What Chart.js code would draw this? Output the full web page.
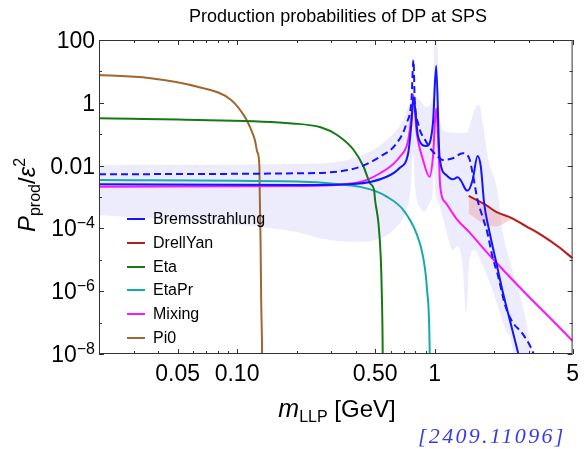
<!DOCTYPE html>
<html>
<head>
<meta charset="utf-8">
<script src="https://cdn.jsdelivr.net/npm/chart.js@4.4.1/dist/chart.umd.min.js"></script>
<style>
  body { margin: 0; background: #fff; }
  #wrap { position: relative; width: 586px; height: 449px; font-family: "Liberation Sans", Arial, sans-serif; color: #000; overflow: hidden; }
  #wrap canvas { position: absolute; left: 0; top: 0; }
  .abs { position: absolute; white-space: nowrap; }
  #title { left: 0; width: 676px; top: 7px; text-align: center; font-size: 18px; line-height: 18px; }
  #xlabel { left: 0; width: 674px; top: 396px; text-align: center; font-size: 24px; line-height: 24px; }
  #xlabel i { font-size: 25px; }
  #xlabel sub, #ylabel sub { font-size: 16px; vertical-align: -5px; line-height: 0; }
  #ylabel { left: 27px; top: 195px; font-size: 24px; line-height: 24px; transform: translate(-50%, -50%) rotate(-90deg); }
  #ylabel sup { font-size: 16px; vertical-align: 10px; line-height: 0; }
  .ytick { left: 0; width: 95px; text-align: right; font-size: 23px; line-height: 23px; }
  .ytick sup { font-size: 16px; vertical-align: 8px; line-height: 0; }
  .leg { left: 127px; height: 16px; font-size: 16px; line-height: 16px; }
  .leg span { position: absolute; left: 0; top: 7px; width: 18px; height: 2px; }
  .leg b { position: absolute; left: 26px; top: 0; font-weight: normal; }
  #ref { left: 418px; top: 425px; font-family: "Liberation Serif", serif; font-style: italic; font-size: 22px; line-height: 22px; letter-spacing: 2.3px; color: #3a3aec; }
</style>
</head>
<body>
<div id="wrap">
  <canvas id="c" width="586" height="449"></canvas>
  <div id="title" class="abs">Production probabilities of DP at SPS</div>
  <div id="xlabel" class="abs"><i>m</i><sub>LLP</sub> [GeV]</div>
  <div id="ylabel" class="abs"><i>P</i><sub>prod</sub>/<i>ε</i><sup>2</sup></div>
  <div id="ref" class="abs">[2409.11096]</div>
</div>
<script>
// masses in GeV, probabilities P_prod / eps^2
const pi0M = [0.02, 0.0357, 0.0637, 0.0933, 0.1097, 0.1162, 0.1231, 0.1267, 0.1298, 0.1302, 0.1316, 0.1325, 0.1339, 0.1342];
const pi0P = [7.7, 6.2, 3.2, 1.23, 0.35, 0.17, 0.065, 0.027, 0.009, 1.67e-3, 3e-5, 5.2e-7, 1e-8, 1e-9];

const etaM = [0.02, 0.0637, 0.19, 0.2649, 0.3211, 0.3896, 0.4372, 0.4719, 0.4942, 0.4999, 0.52, 0.5339, 0.5402, 0.5464, 0.5475];
const etaP = [0.32, 0.283, 0.22, 0.166, 0.094, 0.0314, 0.0092, 0.0027, 1.67e-3, 8e-4, 1.45e-4, 1.25e-5, 1.1e-6, 1.07e-8, 1e-9];

const etaPrM = [0.02, 0.2, 0.3211, 0.4204, 0.5098, 0.5723, 0.6939, 0.8096, 0.8745, 0.916, 0.945, 0.948];
const etaPrP = [3.47e-3, 3.1e-3, 2.6e-3, 2.1e-3, 1.48e-3, 1.03e-3, 3.9e-4, 6.9e-5, 1.26e-5, 1.1e-6, 1.1e-8, 1e-9];

const mixM = [0.02, 0.2, 0.3896, 0.5297, 0.6672, 0.7355, 0.7729, 0.782, 0.8096, 0.8745, 0.9439, 0.9817, 1.019, 1.0521, 1.0681, 1.1447, 1.2852, 1.4982, 1.817, 2.04, 2.8842, 3.8471, 5.0];
const mixP = [2.13e-3, 2.24e-3, 2.73e-3, 5.7e-3, 0.0192, 0.065, 0.75, 1.77, 0.136, 0.0151, 4.4e-3, 0.0192, 0.67, 0.0192, 2.13e-3, 6.3e-4, 2.1e-4, 7.6e-5, 1.9e-5, 8.5e-6, 8.6e-7, 1.4e-7, 2.6e-8];

const bremM = [0.02, 0.2, 0.3896, 0.5723, 0.6649, 0.7355, 0.764, 0.782, 0.8255, 0.9086, 0.9817, 1.019, 1.0594, 1.1447, 1.2366, 1.3102, 1.361, 1.4428, 1.4712, 1.5589, 1.6512, 1.715, 1.7818, 1.888, 2.04, 2.2033, 2.4262, 2.6514, 2.75];
const bremP = [2.54e-3, 2.41e-3, 2.6e-3, 4.42e-3, 8.4e-3, 0.0252, 0.228, 1.5, 0.083, 0.042, 0.228, 15, 0.02, 5.0e-3, 3.66e-3, 4.24e-3, 3.3e-3, 1.67e-3, 1.6e-3, 3.5e-3, 0.0202, 9.2e-3, 6.5e-4, 8.9e-5, 9.9e-6, 1.1e-6, 9.7e-8, 1.05e-8, 4e-9];

const bremDashM = [0.02, 0.2, 0.3211, 0.4204, 0.5297, 0.6424, 0.7211, 0.764, 0.782, 0.7935, 0.8255, 0.9086, 0.9817, 1.0198, 1.1019, 1.2366, 1.3883, 1.4982, 1.5589, 1.6512, 1.7498, 1.8533, 1.9634, 2.0801, 2.2901, 2.4743, 2.7772, 3.1168, 3.2381];
const bremDashP = [5.3e-3, 5.7e-3, 6.4e-3, 9.2e-3, 0.0192, 0.051, 0.222, 1.23, 23, 1.23, 0.222, 0.056, 0.0277, 0.0218, 0.0151, 0.0171, 0.0247, 0.0171, 5.7e-3, 8e-4, 2.36e-4, 7e-5, 1.26e-5, 3.7e-6, 3.2e-7, 1.07e-7, 4.6e-8, 1.34e-8, 7e-9];

const dyM = [1.4882, 1.817, 2.04, 2.4743, 2.8842, 3.4986, 4.2393, 5.0];
const dyP = [1.08e-3, 5.6e-4, 3.4e-4, 2.1e-4, 1.2e-4, 6.0e-5, 2.6e-5, 1.12e-5];
const dyBandLoP = [3.0e-4, 1.3e-4, 1.15e-4, 1.85e-4, 1.08e-4, 5.3e-5, 2.3e-5, 9.8e-6];
const dyBandHiP = [1.15e-3, 6.0e-4, 3.6e-4, 2.25e-4, 1.28e-4, 6.4e-5, 2.8e-5, 1.22e-5];

// uncertainty band around Bremsstrahlung
const bandHiM = [0.02, 0.2, 0.3896, 0.5723, 0.6939, 0.7491, 0.7793, 0.8409, 0.9086, 0.9817, 0.998, 1.035, 1.0594, 1.1447, 1.4428, 1.619, 1.6843, 1.7498, 1.888, 2.08, 2.2033, 2.40, 2.80, 3.12, 3.3137];
const bandHiP = [0.0105, 0.0112, 0.0171, 0.065, 0.283, 0.99, 1.56, 1.23, 0.75, 1.56, 100, 100, 0.3, 0.12, 0.11, 0.75, 0.85, 0.23, 0.0121, 1.67e-3, 8.9e-5, 9.9e-6, 3.2e-7, 1.07e-8, 1e-9];
const bandLoM = [0.02, 0.0637, 0.2, 0.2649, 0.3896, 0.5297, 0.6424, 0.7211, 0.7551, 0.7774, 0.8, 0.8477, 0.8909, 0.9406, 0.9794, 0.9942, 1.0139, 1.0594, 1.1447, 1.2366, 1.3102, 1.3853, 1.4497, 1.5015, 1.5868, 1.7498, 1.9634, 2.2901, 2.5, 2.6, 3.3137];
const bandLoP = [2.67e-4, 1.6e-4, 7.7e-5, 4.8e-5, 3.77e-5, 4.8e-5, 1.13e-4, 3.86e-4, 1.67e-3, 0.0271, 1.67e-3, 4.5e-4, 3.4e-4, 6.4e-4, 1.45e-3, 0.0105, 1.45e-3, 5.6e-4, 8.9e-5, 2.05e-5, 2.75e-5, 6.8e-6, 2.0e-7, 9.9e-6, 2.05e-5, 6.8e-6, 1.1e-6, 6e-8, 1e-8, 1e-10, 1e-10];

const legendNames = ['Bremsstrahlung', 'DrellYan', 'Eta', 'EtaPr', 'Mixing', 'Pi0'];
const legendColors = ['#1414ff', '#b41e1e', '#157a15', '#17aaaa', '#ff14ff', '#a0662e'];

const xMajor = [0.05, 0.1, 0.5, 1, 5];
const xMajorText = ['0.05', '0.10', '0.50', '1', '5'];
const xMinor = [0.03, 0.04, 0.06, 0.07, 0.08, 0.09, 0.2, 0.3, 0.4, 0.6, 0.7, 0.8, 0.9, 2, 3, 4];
const yMajor = [1e-8, 1e-6, 1e-4, 1e-2, 1, 100];
const yMajorHtml = ['10<sup>−8</sup>', '10<sup>−6</sup>', '10<sup>−4</sup>', '0.01', '1', '100'];
const yMinor = [1e-7, 1e-5, 1e-3, 0.1, 10];

const pts = (m, p) => m.map((v, i) => ({ x: v, y: p[i] }));
const line = (label, m, p, color, extra) => Object.assign({
  label, data: pts(m, p), borderColor: color, borderWidth: 2, pointRadius: 0, fill: false,
  cubicInterpolationMode: 'monotone'
}, extra || {});
const edge = (m, p) => ({
  data: pts(m, p), borderColor: 'rgba(0,0,0,0)', borderWidth: 0, pointRadius: 0, fill: false,
  cubicInterpolationMode: 'monotone'
});

// fills are drawn last-to-first, so the pink band (7,8) ends up over the lavender one (9,10)
const datasets = [
  line('Bremsstrahlung', bremM, bremP, legendColors[0]),
  line('Bremsstrahlung (dashed)', bremDashM, bremDashP, legendColors[0], { borderDash: [7, 4] }),
  line('DrellYan', dyM, dyP, legendColors[1]),
  line('Eta', etaM, etaP, legendColors[2]),
  line('EtaPr', etaPrM, etaPrP, legendColors[3]),
  line('Mixing', mixM, mixP, legendColors[4]),
  line('Pi0', pi0M, pi0P, legendColors[5]),
  edge(dyM, dyBandLoP),
  Object.assign(edge(dyM, dyBandHiP), { fill: { target: 7 }, backgroundColor: 'rgba(240,160,165,0.45)' }),
  edge(bandLoM, bandLoP),
  Object.assign(edge(bandHiM, bandHiP), { fill: { target: 9 }, backgroundColor: '#ececfd' })
];

// inward ticks on all four sides plus frame
const frameTicks = {
  id: 'frameTicks',
  afterDraw(chart) {
    const { ctx, chartArea: a, scales: { x, y } } = chart;
    ctx.save();
    ctx.strokeStyle = '#333';
    ctx.lineWidth = 1;
    ctx.strokeRect(a.left + 0.5, a.top + 0.5, a.right - a.left - 1, a.bottom - a.top - 1);
    const seg = (x1, y1, x2, y2) => { ctx.beginPath(); ctx.moveTo(x1, y1); ctx.lineTo(x2, y2); ctx.stroke(); };
    const xt = (vals, len) => vals.forEach(v => {
      const px = Math.round(x.getPixelForValue(v)) + 0.5;
      seg(px, a.bottom, px, a.bottom - len);
      seg(px, a.top, px, a.top + len);
    });
    const yt = (vals, len) => vals.forEach(v => {
      const py = Math.round(y.getPixelForValue(v)) + 0.5;
      seg(a.left, py, a.left + len, py);
      seg(a.right, py, a.right - len, py);
    });
    xt(xMajor, 5); xt(xMinor, 3);
    yt(yMajor, 5); yt(yMinor, 3);
    ctx.restore();
  }
};

const chart = new Chart(document.getElementById('c'), {
  type: 'line',
  data: { datasets },
  options: {
    responsive: false,
    animation: false,
    devicePixelRatio: 1,
    layout: { padding: { top: 40, right: 9, left: 0, bottom: 0 } },
    plugins: {
      legend: { display: false },
      title: { display: false },
      tooltip: { enabled: false },
      filler: { propagate: false, drawTime: 'beforeDatasetsDraw' }
    },
    scales: {
      x: {
        type: 'logarithmic',
        min: 0.02,
        max: 5,
        grid: { display: false, drawTicks: false },
        border: { display: false },
        afterFit: s => { s.height = 95; },
        afterBuildTicks: s => { s.ticks = xMajor.map(v => ({ value: v })); },
        ticks: {
          autoSkip: false, maxRotation: 0, minRotation: 0, padding: 7,
          color: '#000',
          font: { family: '"Liberation Sans", Arial, sans-serif', size: 23 },
          callback: v => xMajorText[xMajor.indexOf(v)]
        }
      },
      y: {
        type: 'logarithmic',
        min: 1e-8,
        max: 100,
        grid: { display: false, drawTicks: false },
        border: { display: false },
        afterFit: s => { s.width = 99; },
        ticks: { display: false }
      }
    }
  },
  plugins: [frameTicks]
});

const wrap = document.getElementById('wrap');
yMajor.forEach((v, i) => {
  const d = document.createElement('div');
  d.className = 'abs ytick';
  d.innerHTML = yMajorHtml[i];
  d.style.top = (chart.scales.y.getPixelForValue(v) - 11) + 'px';
  wrap.appendChild(d);
});
legendNames.forEach((n, i) => {
  const d = document.createElement('div');
  d.className = 'abs leg';
  d.style.top = (219 + i * 23.8 - 8) + 'px';
  d.innerHTML = '<span style="background:' + legendColors[i] + '"></span><b>' + n + '</b>';
  wrap.appendChild(d);
});
</script>
</body>
</html>
